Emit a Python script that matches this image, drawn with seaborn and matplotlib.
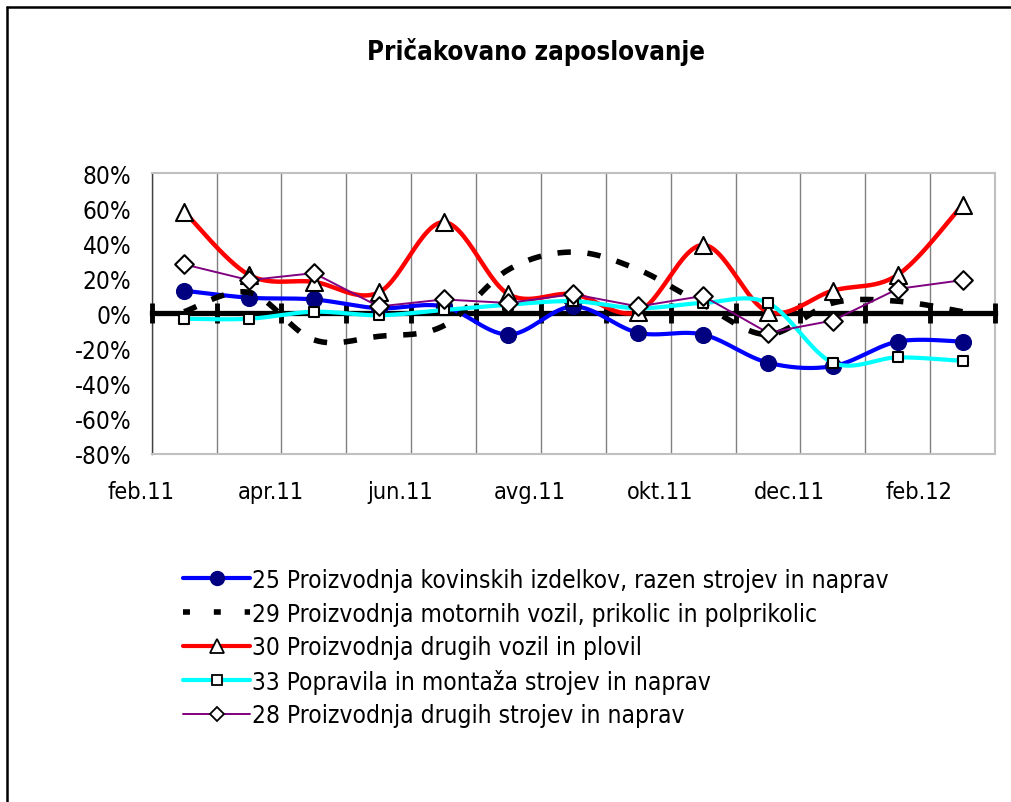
import numpy as np
import pandas as pd
import matplotlib
matplotlib.use("Agg")
import matplotlib.pyplot as plt
import matplotlib.transforms as mtransforms
from matplotlib.lines import Line2D
from matplotlib.ticker import FuncFormatter
import seaborn as sns

sns.set_style("white")
plt.rcParams["font.family"] = ["DejaVu Sans"]
plt.rcParams["font.stretch"] = "condensed"
plt.rcParams["text.color"] = "black"
plt.rcParams["xtick.color"] = "black"
plt.rcParams["ytick.color"] = "black"

months = ["feb.11", "mar.11", "apr.11", "maj.11", "jun.11", "jul.11", "avg.11",
          "sep.11", "okt.11", "nov.11", "dec.11", "jan.12", "feb.12"]
tick_labels = ["feb.11", "apr.11", "jun.11", "avg.11", "okt.11", "dec.11", "feb.12"]

s25 = [13, 9, 8, 3, 4, -12, 4, -11, -12, -28, -30, -16, -16]
s29 = [1, 12, -15, -13, -7, 25, 35, 25, 5, -12, 6, 7, 1]
s30 = [58, 22, 18, 12, 52, 11, 11, 1, 39, 1, 13, 22, 62]
s33 = [-3, -3, 1, -1, 2, 5, 7, 3, 6, 6, -28, -25, -27]
s28 = [28, 19, 23, 4, 8, 6, 11, 4, 10, -11, -4, 14, 19]

names = ["25 Proizvodnja kovinskih izdelkov, razen strojev in naprav",
         "29 Proizvodnja motornih vozil, prikolic in polprikolic",
         "30 Proizvodnja drugih vozil in plovil",
         "33 Popravila in montaža strojev in naprav",
         "28 Proizvodnja drugih strojev in naprav"]


def smooth_curve(vals, n=30):
    # Excel-like smoothed line (Catmull-Rom Bezier) through the points
    y = np.asarray(vals, dtype=float)
    x = np.arange(len(y), dtype=float)
    p = np.column_stack([x, y])
    p = np.vstack([p[0], p, p[-1]])
    out = []
    t = np.linspace(0, 1, n)[:, None]
    for i in range(1, len(p) - 2):
        p0, p1, p2, p3 = p[i - 1], p[i], p[i + 1], p[i + 2]
        c1 = p1 + (p2 - p0) / 6
        c2 = p2 - (p3 - p1) / 6
        seg = ((1 - t) ** 3) * p1 + 3 * ((1 - t) ** 2) * t * c1 \
            + 3 * (1 - t) * t ** 2 * c2 + t ** 3 * p2
        out.append(seg if i == 1 else seg[1:])
    out = np.vstack(out)
    return pd.DataFrame({"x": out[:, 0], "y": out[:, 1]})


fig = plt.figure(figsize=(10.12, 8.03), dpi=100)
ax = fig.add_axes([151.7 / 1012, 1 - 455 / 803, (995 - 151.7) / 1012, (455 - 174) / 803])

# outer chart border (left and top only visible)
fig.add_artist(Line2D([7 / 1012, 7 / 1012], [0, 1 - 8 / 803], color="black", lw=1.8,
                      transform=fig.transFigure))
fig.add_artist(Line2D([7 / 1012, 1], [1 - 8 / 803, 1 - 8 / 803], color="black", lw=1.8,
                      transform=fig.transFigure))

xs = np.arange(len(months))

# 25 - blue, smoothed, navy dots
sns.lineplot(data=smooth_curve(s25), x="x", y="y", ax=ax, color="#0000ff", lw=3,
             sort=False, estimator=None, legend=False, zorder=3)
sns.scatterplot(x=xs, y=s25, ax=ax, marker="o", s=130, color="#000080",
                edgecolor="#000080", legend=False, zorder=3.1)

# 29 - black dashed, smoothed
sns.lineplot(data=smooth_curve(s29), x="x", y="y", ax=ax, color="black", lw=4,
             sort=False, estimator=None, legend=False, zorder=4,
             linestyle=(0, (2.4, 3.0)))

# 30 - red, smoothed, triangles
sns.lineplot(data=smooth_curve(s30), x="x", y="y", ax=ax, color="#ff0000", lw=3.2,
             sort=False, estimator=None, legend=False, zorder=5)
sns.scatterplot(x=xs, y=s30, ax=ax, marker="^", s=150, color="white",
                edgecolor="black", linewidth=1.5, legend=False, zorder=5.1)

# 33 - cyan, smoothed, squares
sns.lineplot(data=smooth_curve(s33), x="x", y="y", ax=ax, color="#00ffff", lw=3,
             sort=False, estimator=None, legend=False, zorder=6)
sns.scatterplot(x=xs, y=s33, ax=ax, marker="s", s=60, color="white",
                edgecolor="black", linewidth=1.5, legend=False, zorder=6.1)

# 28 - purple, straight, diamonds
sns.lineplot(x=xs, y=s28, ax=ax, color="#800080", lw=1.4, legend=False, zorder=7)
sns.scatterplot(x=xs, y=s28, ax=ax, marker="D", s=90, color="white",
                edgecolor="black", linewidth=1.5, legend=False, zorder=7.1)

ax.set_xlim(-0.5, len(months) - 0.5)
ax.set_ylim(-80, 80)
ax.set_xlabel("")
ax.set_ylabel("")

# y axis
ax.set_yticks(np.arange(-80, 81, 20))
ax.yaxis.set_major_formatter(FuncFormatter(lambda v, p: f"{v:.0f}%"))
ax.tick_params(axis="y", direction="out", length=6.5, width=1, color="#404040",
               pad=8, labelsize=17.5)

# x axis: labels every second category boundary, gridlines at every boundary
ax.set_xticks(np.arange(-0.5, len(months) - 1, 2))
ax.set_xticklabels(tick_labels)
ax.set_xticks(np.arange(0.5, len(months) - 1, 1), minor=True)
ax.tick_params(axis="x", which="both", length=0, pad=19, labelsize=16.8)
offset = mtransforms.ScaledTranslation(-11 / 100, 0, fig.dpi_scale_trans)
for lab in ax.get_xticklabels():
    lab.set_transform(lab.get_transform() + offset)
ax.grid(axis="x", which="both", color="#808080", lw=1)
ax.grid(axis="y", visible=False)

for side in ["top", "right", "bottom"]:
    ax.spines[side].set_color("#c0c0c0")
    ax.spines[side].set_linewidth(1.5)
ax.spines["left"].set_color("#404040")
ax.spines["left"].set_linewidth(1)

# category axis crossing at 0%
zero_ax = ax.secondary_xaxis(0.5)
zero_ax.set_zorder(2.6)
for side in ["top", "bottom"]:
    zero_ax.spines[side].set_linewidth(3.8)
    zero_ax.spines[side].set_color("black")
zero_ax.set_xticks(np.arange(-0.5, len(months), 1))
zero_ax.set_xticklabels([])
zero_ax.tick_params(axis="x", which="both", direction="inout", length=15, width=3.5,
                    color="black", labeltop=False, labelbottom=False)

fig.text(536 / 1012, 1 - 52 / 803, "Pričakovano zaposlovanje", ha="center",
         va="center", fontsize=18.5, fontweight="bold")

handles = [
    Line2D([], [], color="#0000ff", lw=3, marker="o", ms=10, mfc="#000080", mec="#000080"),
    Line2D([], [], color="black", lw=4, linestyle=(0, (1.25, 4.3))),
    Line2D([], [], color="#ff0000", lw=3, marker="^", ms=10, mfc="white", mec="black", mew=1.3),
    Line2D([], [], color="#00ffff", lw=3, marker="s", ms=6.5, mfc="white", mec="black", mew=1.3),
    Line2D([], [], color="#800080", lw=1.4, marker="D", ms=7.5, mfc="white", mec="black", mew=1.3),
]
fig.legend(handles, names, loc="upper left", bbox_to_anchor=(183 / 1012, 1 - 569 / 803),
           frameon=False, fontsize=17.6, handlelength=2.75, handletextpad=0.08,
           labelspacing=0.39, borderpad=0, borderaxespad=0)

fig.savefig("out.png", dpi=100)
